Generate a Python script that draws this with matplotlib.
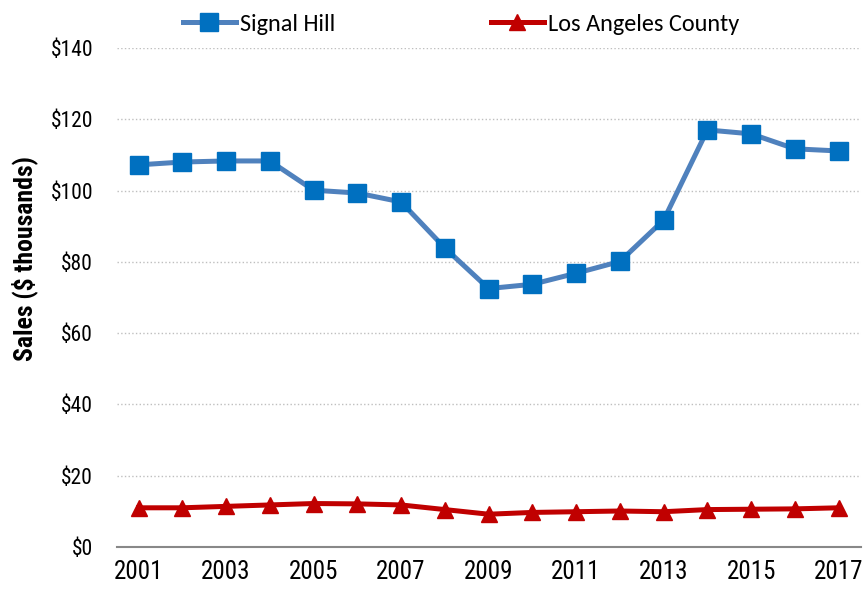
import matplotlib.pyplot as plt
from matplotlib.ticker import FuncFormatter

# Годы и продажи на душу населения, тыс. $
years = list(range(2001, 2018))
signal_hill = [107.2, 108.0, 108.3, 108.3, 100.1, 99.3, 96.8, 83.9, 72.5,
               73.7, 76.8, 80.1, 91.7, 117.0, 115.9, 111.7, 111.1]
la_county = [11.0, 11.0, 11.4, 11.8, 12.2, 12.1, 11.8, 10.5, 9.2,
             9.7, 9.9, 10.1, 9.9, 10.5, 10.6, 10.7, 11.0]
y_ticks = [0, 20, 40, 60, 80, 100, 120, 140]
x_ticks = list(range(2001, 2018, 2))

narrow = ['Roboto Condensed', 'Liberation Sans', 'DejaVu Sans']
plt.rcParams['font.family'] = narrow

fig = plt.figure(figsize=(8.64, 5.92), dpi=100)
ax = fig.add_axes([0.135, 0.076, 0.861, 0.843])

ax.plot(years, signal_hill, color='#4f81bd', linewidth=3.6,
        marker='s', markersize=13.5, markerfacecolor='#0070c0',
        markeredgecolor='#0070c0', label='Signal Hill', zorder=3)
ax.plot(years, la_county, color='#c00000', linewidth=3.6,
        marker='^', markersize=12, markerfacecolor='#c00000',
        markeredgecolor='#c00000', label='Los Angeles County', zorder=3)

ax.set_xlim(2000.5, 2017.5)
ax.set_ylim(0, 140)
ax.set_xticks(x_ticks)
ax.set_yticks(y_ticks)
ax.yaxis.set_major_formatter(FuncFormatter(lambda v, p: f'${v:.0f}'))
ax.tick_params(axis='both', length=0)
ax.tick_params(axis='x', labelsize=18, pad=9)
ax.tick_params(axis='y', labelsize=15.5, pad=17)

ax.grid(axis='y', color='#bfbfbf', linestyle=':', linewidth=1)
ax.set_axisbelow(True)
for s in ['top', 'right', 'left']:
    ax.spines[s].set_visible(False)
ax.spines['bottom'].set_color('#888888')
ax.spines['bottom'].set_linewidth(1.5)

ax.set_ylabel('Sales ($ thousands)', fontsize=18.5, fontweight='bold')
ax.yaxis.set_label_coords(-0.106, 0.579)

# легенда сверху в одну строку
fig.legend(loc='upper left', bbox_to_anchor=(0.186, 1.014), ncol=2,
           frameon=False, handlelength=2.2, handletextpad=0.16,
           columnspacing=6.4,
           prop={'family': ['Carlito', 'Liberation Sans'], 'size': 17.5})

plt.savefig('out.png', dpi=100)
